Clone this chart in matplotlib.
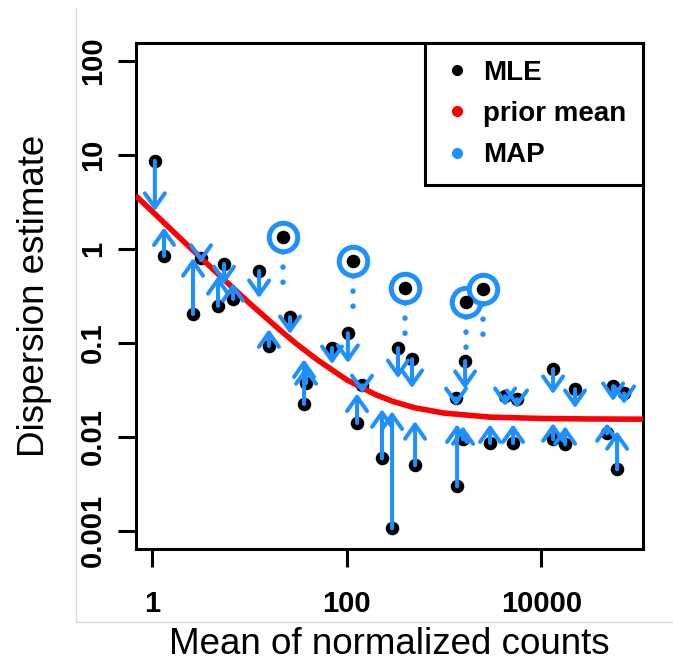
import matplotlib
matplotlib.use("Agg")
import matplotlib.pyplot as plt
from matplotlib.lines import Line2D

plt.rcParams['font.family'] = ['Liberation Sans', 'DejaVu Sans']

# ---------------- data ----------------
gene_mean = [1.07, 1.33, 2.64, 3.19, 5.5, 4.77, 6.8, 12.6, 15.9, 26.2, 36.5, 38.3,
             70.8, 103, 128, 144, 337, 470, 231, 293, 505, 1648, 1331, 1364, 1572,
             2978, 5130, 4246, 5640, 13220, 22240, 13220, 17580, 54700, 71000, 47450, 60100]
disp_mle = [8.67, 0.84, 0.203, 0.80, 0.69, 0.247, 0.293, 0.583, 0.0925, 0.188, 0.0223, 0.0373,
            0.088, 0.127, 0.014, 0.0355, 0.088, 0.067, 0.0059, 0.00106, 0.00498, 0.064, 0.0258,
            0.00297, 0.0094, 0.00855, 0.00855, 0.0271, 0.0252, 0.0526, 0.0322, 0.0094, 0.0083,
            0.0346, 0.029, 0.0109, 0.0045]
disp_map = [2.54, 1.70, 0.80, 0.71, 0.42, 0.515, 0.434, 0.30, 0.140, 0.124, 0.067, 0.0566,
            0.0594, 0.061, 0.029, 0.029, 0.042, 0.033, 0.0197, 0.0187, 0.0147, 0.0322, 0.0212,
            0.0136, 0.013, 0.0136, 0.0136, 0.0212, 0.0202, 0.0285, 0.0202, 0.014, 0.013,
            0.024, 0.0223, 0.014, 0.0115]

outlier_mean = [22.2, 116, 398, 1687, 2523]
outlier_mle = [1.34, 0.745, 0.384, 0.272, 0.375]
outlier_dot_end = [0.424, 0.235, 0.121, 0.0858, 0.118]

prior_x = [0.68, 1, 2, 3, 5, 10, 20, 30, 50, 100, 200, 300, 500, 1000, 3000, 10000, 30000, 111000]
prior_y = [3.70, 2.525, 1.27, 0.852, 0.517, 0.266, 0.141, 0.099, 0.066, 0.0405, 0.028,
           0.0238, 0.0204, 0.0179, 0.0162, 0.0157, 0.0155, 0.0154]

x_ticks = [1, 100, 10000]
x_ticklabels = ["1", "100", "10000"]
y_ticks = [0.001, 0.01, 0.1, 1, 10, 100]
y_ticklabels = ["0.001", "0.01", "0.1", "1", "10", "100"]

legend_labels = ["MLE", "prior mean", "MAP"]

BLUE = "#1E90FF"
RED = "#FF0000"

# ---------------- figure ----------------
W, H = 673, 660
fig = plt.figure(figsize=(W / 100, H / 100), dpi=100)

# faint frame of the embedded picture
fig.add_artist(Line2D([76 / W, 76 / W], [1 - 8 / H, 1 - 622 / H], color="#d9d9d9", lw=1.0))
fig.add_artist(Line2D([76 / W, 1.0], [1 - 622 / H, 1 - 622 / H], color="#d9d9d9", lw=1.0))

ax = fig.add_axes([136 / W, 1 - 548.5 / H, (643 - 136) / W, (548.5 - 43) / H])
ax.set_xscale("log")
ax.set_yscale("log")
ax.set_xlim(0.685, 1.11e5)
ax.set_ylim(0.000647, 156)

# MLE points
ax.scatter(gene_mean, disp_mle, s=95, color="black", zorder=3, linewidths=0)

# prior mean curve
ax.plot(prior_x, prior_y, color=RED, lw=4.0, zorder=4, solid_capstyle="butt")

# arrows MLE -> MAP
for xm, a, b in zip(gene_mean, disp_mle, disp_map):
    ax.annotate("", xy=(xm, b), xytext=(xm, a),
                arrowprops=dict(arrowstyle="->,head_length=0.85,head_width=0.6",
                                color=BLUE, lw=2.9, shrinkA=0, shrinkB=0,
                                mutation_scale=12),
                zorder=5)

# outliers: dotted line, circle, point
for xm, a, e in zip(outlier_mean, outlier_mle, outlier_dot_end):
    ax.plot([xm, xm], [a, e], color=BLUE, lw=4.0, linestyle=(0, (0.01, 2.7)),
            dash_capstyle="round", zorder=3)
ax.scatter(outlier_mean, outlier_mle, s=420, facecolors="white", edgecolors=BLUE,
           linewidths=3.6, zorder=6)
ax.scatter(outlier_mean, outlier_mle, s=95, color="black", zorder=7, linewidths=0)

# axes styling
for sp in ax.spines.values():
    sp.set_linewidth(2.2)
ax.minorticks_off()
ax.set_xticks(x_ticks, x_ticklabels)
ax.set_yticks(y_ticks, y_ticklabels)
ax.tick_params(axis="both", which="major", direction="out", length=13, width=2.2,
               labelsize=21)
ax.tick_params(axis="x", pad=17)
ax.tick_params(axis="y", pad=8)
for lab in ax.get_yticklabels() + ax.get_xticklabels():
    lab.set_fontweight("bold")
for lab in ax.get_yticklabels():
    lab.set_rotation(90)
    lab.set_va("center")

ax.set_xlabel("Mean of normalized counts", fontsize=26.5, labelpad=6)
ax.set_ylabel("Dispersion estimate", fontsize=26.5, labelpad=19)

# legend
handles = [Line2D([], [], marker="o", linestyle="none", color=c, markersize=7)
           for c in ["black", RED, BLUE]]
leg = ax.legend(handles, legend_labels, loc="upper right",
                prop={"size": 20, "weight": "bold"},
                frameon=True, fancybox=False, framealpha=1, edgecolor="black",
                borderaxespad=0, borderpad=0.6, handlelength=1.1,
                handletextpad=0.4, labelspacing=0.55)
leg.get_frame().set_linewidth(2.2)
leg.set_zorder(10)

fig.savefig("out.png", dpi=100)
